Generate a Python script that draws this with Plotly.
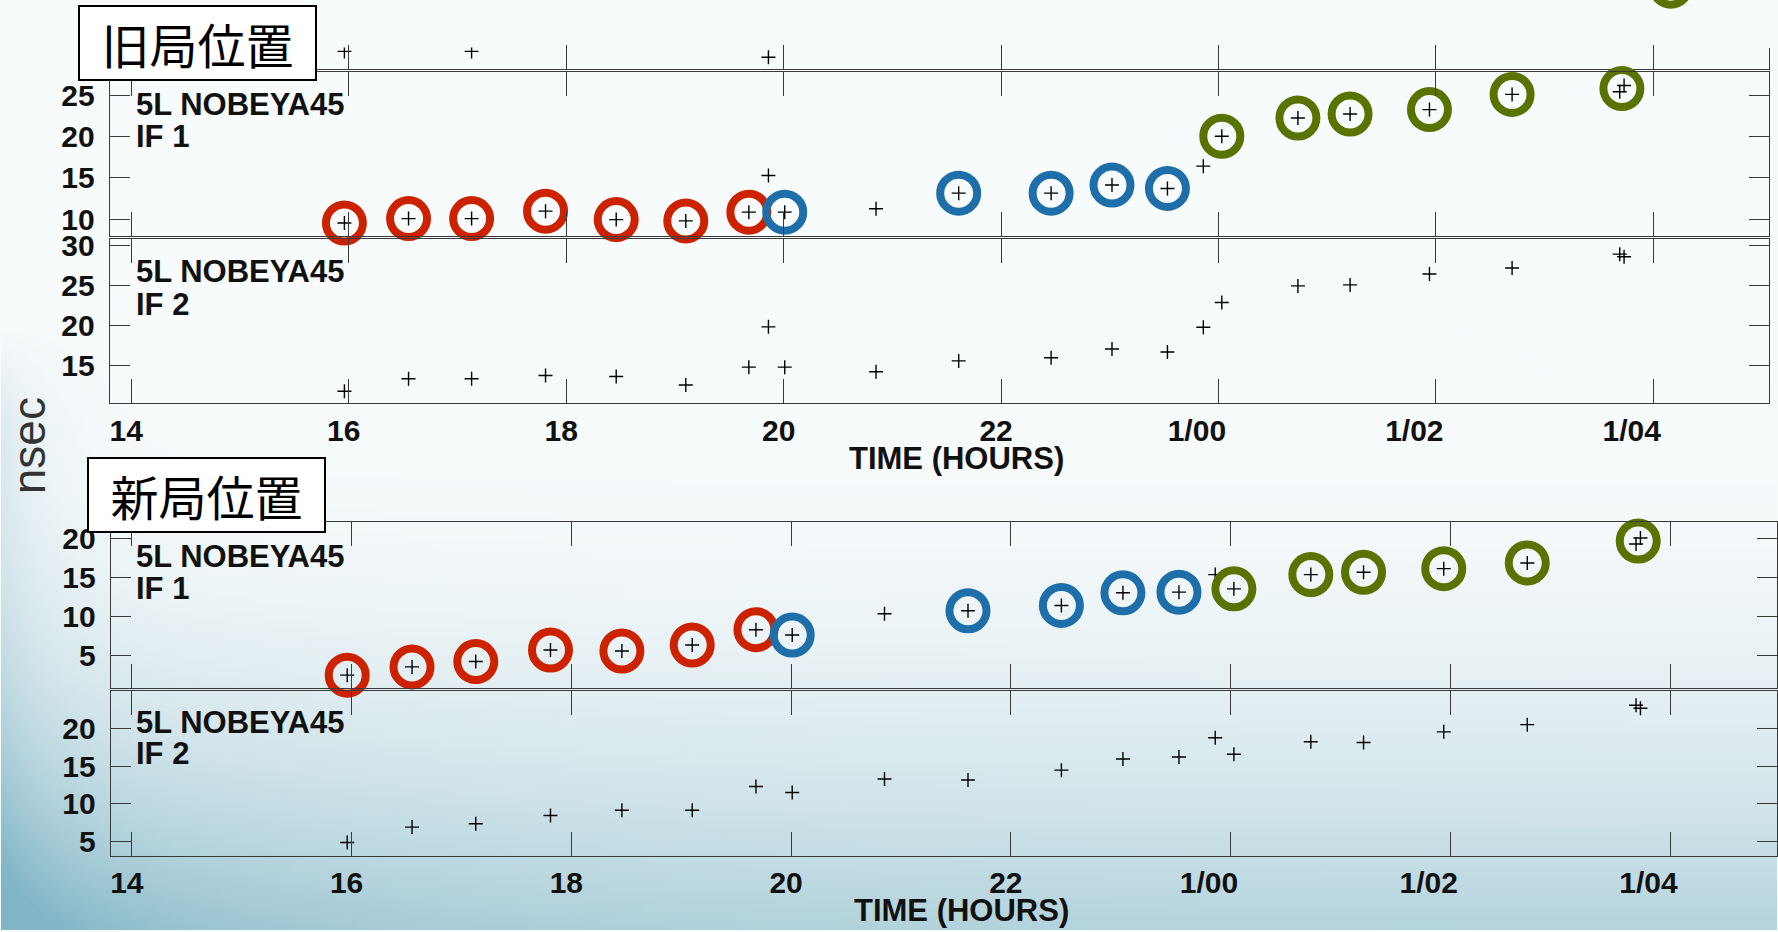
import base64, struct, zlib
import numpy as np
import plotly.graph_objects as go

W, H = 1778, 932

# ---------------- data ----------------
# scan times in hours (24+ = next day, labelled 1/00, 1/02 ...)
scan_hours = [15.96, 16.55, 17.13, 17.81, 18.46, 19.10, 19.68, 19.86, 20.01, 20.85, 21.61,
              22.46, 23.02, 23.53, 23.86, 24.03, 24.73, 25.21, 25.94, 26.70, 27.69, 27.73]
# delay residuals (nsec) with old station position
old_if1 = [9.55, 10.08, 10.08, 10.98, 9.96, 9.80, 10.86, 15.30, 10.86, 11.27, 13.16,
           13.16, 14.14, 13.73, 16.43, 20.05, 22.26, 22.75, 23.28, 25.12, 25.45, 26.19]
old_if2 = [11.83, 13.40, 13.40, 13.80, 13.68, 12.61, 14.84, 19.86, 14.84, 14.26, 15.62,
           16.02, 17.10, 16.73, 19.80, 22.90, 24.96, 25.08, 26.44, 27.18, 28.91, 28.58]
# delay residuals (nsec) with new station position
new_if1 = [2.44, 3.50, 4.19, 5.68, 5.55, 6.32, 8.29, None, 7.60, 10.34, 10.73,
           11.41, 13.04, 13.12, 15.38, 13.55, 15.38, 15.68, 16.15, 16.88, 19.32, 20.09]
new_if2 = [4.83, 6.88, 7.32, 8.42, 9.12, 9.12, 12.28, None, 11.49, 13.29, 13.16,
           14.47, 15.96, 16.22, 18.78, 16.58, 18.25, 18.16, 19.57, 20.53, 23.12, 22.72]
# circled groups (indices into scan list; a tuple = one circle around a pair)
red_idx = [0, 1, 2, 3, 4, 5, 6]
blue_idx = [8, 10, 11, 12, 13]
green_idx = [15, 16, 17, 18, 19, (20, 21)]
# partly visible panel above the old IF1 panel
strip_hours = [15.96, 17.13, 19.86]
strip_vals = [29.28, 29.28, 28.54]
strip_green_hours = [28.16]
strip_green_vals = [29.70]   # circle continues above the picture edge

x_tick_vals = [14, 16, 18, 20, 22, 24, 26, 28]
x_tick_text = ["14", "16", "18", "20", "22", "1/00", "1/02", "1/04"]
old_if1_ticks = [10, 15, 20, 25]
old_if2_ticks = [15, 20, 25, 30]
new_if1_ticks = [5, 10, 15, 20]
new_if2_ticks = [5, 10, 15, 20]

# ---------------- styles ----------------
LINE = '#3a3a3a'
TXT = '#111111'
FONT = 'Liberation Sans, Arial, sans-serif'
CJK = 'Noto Sans CJK JP, Noto Sans CJK SC, sans-serif'
RED, BLUE, GREEN = '#cc2200', '#1e6eaa', '#587300'
TFS = 30   # tick font size
AFS = 31   # annotation font size

x_text_padded = [t + ('\u00a0' * 4 if '/' in t else '') for t in x_tick_text]


def fx(px):
    return px / W


def fy(px):
    return 1 - px / H


def ydom(top, bot):
    return [fy(bot), fy(top)]


def make_xaxis(dom, rng, anchor, labels, ticklen=24, mirror='ticks'):
    return dict(domain=[fx(dom[0]), fx(dom[1])], range=rng, anchor=anchor,
                showgrid=False, zeroline=False, showline=True, linecolor=LINE, linewidth=1.3,
                mirror=mirror, ticks='inside', ticklen=ticklen, tickwidth=1.4, tickcolor=LINE,
                tickmode='array', tickvals=x_tick_vals, ticktext=x_text_padded,
                showticklabels=labels,
                tickfont=dict(family=FONT, size=TFS, color=TXT, weight='bold'),
                ticklabelstandoff=0, ticklabelshift=-5, fixedrange=True)


def make_yaxis(dom, rng, anchor, tickvals, show_ticks=True):
    d = dict(domain=dom, range=rng, anchor=anchor, showgrid=False, zeroline=False,
             showline=True, linecolor=LINE, linewidth=1.3, fixedrange=True)
    if show_ticks:
        d.update(mirror='ticks', ticks='inside', ticklen=20, tickwidth=1.4, tickcolor=LINE,
                 tickmode='array', tickvals=tickvals, showticklabels=True,
                 tickfont=dict(family=FONT, size=TFS, color=TXT, weight='bold'),
                 ticklabelstandoff=8)
    else:
        d.update(mirror=True, ticks='', showticklabels=False)
    return d


old_xdom = (109, 1770)
old_xrng = [13.803, 29.063]
new_xdom = (110, 1778)
new_xrng = [13.809, 28.973]

layout_axes = {
    'xaxis': make_xaxis(old_xdom, old_xrng, 'y', False, ticklen=24, mirror=False),
    'yaxis': make_yaxis(ydom(38, 60), [27.0, 29.78], 'x', [], show_ticks=False),
    'xaxis2': make_xaxis(old_xdom, old_xrng, 'y2', False),
    'yaxis2': make_yaxis(ydom(63, 228.8), [7.99, 27.81], 'x2', old_if1_ticks),
    'xaxis3': make_xaxis(old_xdom, old_xrng, 'y3', True),
    'yaxis3': make_yaxis(ydom(232.3, 398.5), [10.33, 30.76], 'x3', old_if2_ticks),
    'xaxis4': make_xaxis(new_xdom, new_xrng, 'y4', False, ticklen=11, mirror=False),
    'yaxis4': make_yaxis(ydom(504.5, 515.5), [0, 1], 'x4', [], show_ticks=False),
    'xaxis5': make_xaxis(new_xdom, new_xrng, 'y5', False),
    'yaxis5': make_yaxis(ydom(519, 686.5), [0.83, 22.11], 'x5', new_if1_ticks),
    'xaxis6': make_xaxis(new_xdom, new_xrng, 'y6', True),
    'yaxis6': make_yaxis(ydom(690, 857), [3.03, 25.0], 'x6', new_if2_ticks),
}

fig = go.Figure()


def plus_trace(xs, ys, xa, ya):
    return go.Scatter(x=xs, y=ys, xaxis=xa, yaxis=ya, mode='markers', hoverinfo='skip',
                      marker=dict(symbol='cross-thin', size=10, color='#000000',
                                  line=dict(width=1.4, color='#000000')))


def circle_trace(xs, ys, xa, ya, color, **mk):
    return go.Scatter(x=xs, y=ys, xaxis=xa, yaxis=ya, mode='markers', hoverinfo='skip',
                      cliponaxis=False,
                      marker=dict(symbol='circle-open', size=37, color=color,
                                  line=dict(width=8, color=color), **mk))


def group_points(idx_list, vals):
    gx, gy = [], []
    for item in idx_list:
        ids = item if isinstance(item, tuple) else (item,)
        gx.append(sum(scan_hours[i] for i in ids) / len(ids))
        gy.append(sum(vals[i] for i in ids) / len(ids))
    return gx, gy


# old strip (panel cut by the picture edge)
fig.add_trace(plus_trace(strip_hours, strip_vals, 'x', 'y'))
fig.add_trace(circle_trace(strip_green_hours, strip_green_vals, 'x', 'y', GREEN,
                           angle=180, standoff=62))

panels = [(old_if1, 'x2', 'y2', True), (old_if2, 'x3', 'y3', False),
          (new_if1, 'x5', 'y5', True), (new_if2, 'x6', 'y6', False)]
for vals, xa, ya, circled in panels:
    fig.add_trace(plus_trace(scan_hours, vals, xa, ya))
    if circled:
        for idx, col in ((red_idx, RED), (blue_idx, BLUE), (green_idx, GREEN)):
            gx, gy = group_points(idx, vals)
            fig.add_trace(circle_trace(gx, gy, xa, ya, col))

# ---------------- background gradient (slide) ----------------
gw, gh = 356, 187
X, Y = np.meshgrid(np.linspace(0, W, gw), np.linspace(0, H, gh))
vy = np.clip((Y - 380) / 552, 0, 1) ** 2.2
hx = 0.45 + 0.35 * np.exp(-X / 300)
left = 0.18 * np.exp(-X / 45) * np.clip((Y - 320) / 100, 0, 1)
a = np.clip(vy * hx + left, 0, 0.8)
c0 = np.array([248, 251, 252], dtype=float)
c1 = np.array([100, 165, 185], dtype=float)
rgb = (c0 * (1 - a[..., None]) + c1 * a[..., None]).astype(np.uint8)


def png_uri(arr):
    h, w, _ = arr.shape
    raw = b''.join(b'\x00' + arr[r].tobytes() for r in range(h))

    def chunk(t, d):
        return struct.pack('>I', len(d)) + t + d + struct.pack('>I', zlib.crc32(t + d) & 0xffffffff)
    png = (b'\x89PNG\r\n\x1a\n' + chunk(b'IHDR', struct.pack('>IIBBBBB', w, h, 8, 2, 0, 0, 0))
           + chunk(b'IDAT', zlib.compress(raw, 9)) + chunk(b'IEND', b''))
    return 'data:image/png;base64,' + base64.b64encode(png).decode()


annotations = []


def label(text, x, y, size=AFS, anchor='left', bold=True, **kw):
    annotations.append(dict(text=('<b>%s</b>' % text) if bold else text, x=fx(x), y=fy(y),
                            xref='paper', yref='paper', xanchor=anchor, yanchor='middle',
                            showarrow=False, font=dict(family=kw.pop('family', FONT), size=size,
                                                       color=kw.pop('color', TXT)), **kw))


for (l1, l2), (y1, y2) in [(('5L NOBEYA45', 'IF 1'), (96, 128)),
                           (('5L NOBEYA45', 'IF 2'), (265, 298)),
                           (('5L NOBEYA45', 'IF 1'), (553.5, 586)),
                           (('5L NOBEYA45', 'IF 2'), (722, 753))]:
    label(l1, 133, y1)
    label(l2, 133, y2)

label('TIME (HOURS)', 957, 454.5, anchor='center')
label('TIME (HOURS)', 962, 912, anchor='center')
label('nsec', 28, 441, size=46, anchor='center', bold=False, textangle=-90, color='#333333')

for text, cx, cy in [('旧局位置', 196.5, 33.5), ('新局位置', 205.5, 491.5)]:
    annotations.append(dict(text=text, x=fx(cx), y=fy(cy), xref='paper', yref='paper',
                            xanchor='center', yanchor='middle', showarrow=False,
                            width=235, height=72, borderpad=0, borderwidth=2,
                            bordercolor='#000000', bgcolor='#ffffff', align='center',
                            valign='middle', font=dict(family=CJK, size=48, color='#000000')))

fig.update_layout(
    width=W, height=H, margin=dict(l=0, r=0, t=0, b=0, pad=0),
    paper_bgcolor='#f8fbfc', plot_bgcolor='rgba(0,0,0,0)', showlegend=False,
    annotations=annotations,
    images=[dict(source=png_uri(rgb), xref='paper', yref='paper', x=0, y=1, sizex=1, sizey=1,
                 xanchor='left', yanchor='top', sizing='stretch', layer='below')],
    **layout_axes,
)

fig.write_html('out.html')
